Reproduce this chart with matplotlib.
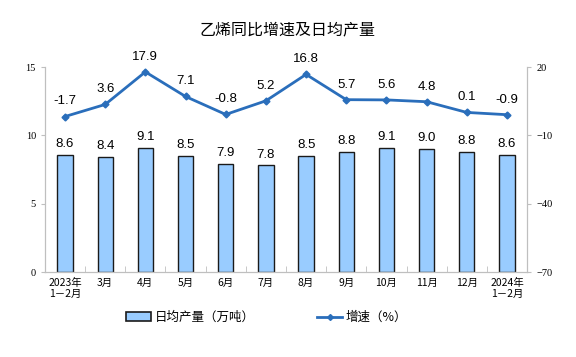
import numpy as np
import matplotlib.pyplot as plt
from matplotlib.lines import Line2D
from matplotlib.patches import Patch

plt.rcParams['font.family'] = ['Noto Sans CJK SC', 'DejaVu Sans']

months = ["2023年\n1－2月", "3月", "4月", "5月", "6月", "7月", "8月", "9月",
          "10月", "11月", "12月", "2024年\n1－2月"]
output = [8.6, 8.4, 9.1, 8.5, 7.9, 7.8, 8.5, 8.8, 9.1, 9.0, 8.8, 8.6]
growth = [-1.7, 3.6, 17.9, 7.1, -0.8, 5.2, 16.8, 5.7, 5.6, 4.8, 0.1, -0.9]

bar_color = '#99CCFF'
line_color = '#2A6EBB'
axis_gray = '#BFBFBF'

fig = plt.figure(figsize=(5.76, 3.57), dpi=100)
ax = fig.add_axes([0.078, 0.238, 0.837, 0.574])
x = np.arange(len(months))

ax.bar(x, output, width=0.38, color=bar_color, edgecolor='#1a1a1a', linewidth=1.0, zorder=2)
for xi, v in zip(x, output):
    ax.text(xi, v + 0.35, f"{v:.1f}", ha='center', va='bottom', fontsize=9.5,
            family=['Liberation Sans', 'DejaVu Sans'])

ax.set_xlim(-0.5, len(months) - 0.5)
ax.set_ylim(0, 15)
ax.set_yticks([0, 5, 10, 15])
ax.set_xticks(x)
ax.set_xticklabels(months, fontsize=7.5)
ax.set_xticks(np.arange(-0.5, len(months)), minor=True)
ax.tick_params(axis='x', which='major', length=0, pad=4)
ax.tick_params(axis='x', which='minor', length=4, color=axis_gray, direction='in')
ax.tick_params(axis='y', labelsize=7.5, length=3, color=axis_gray, direction='out')
for lbl in ax.get_yticklabels():
    lbl.set_family(['Liberation Serif', 'DejaVu Serif'])
ax.spines['top'].set_visible(False)
for s in ['left', 'right', 'bottom']:
    ax.spines[s].set_color(axis_gray)

ax2 = ax.twinx()
ax2.plot(x, growth, color=line_color, linewidth=2.0, marker='D', markersize=3.5, zorder=3)
for xi, v in zip(x, growth):
    ax2.text(xi, v + 4.0, f"{v:.1f}", ha='center', va='bottom', fontsize=9.5,
             family=['Liberation Sans', 'DejaVu Sans'])
ax2.set_ylim(-70, 20)
ax2.set_yticks([-70, -40, -10, 20])
ax2.tick_params(axis='y', labelsize=7.5, length=3, color=axis_gray)
for lbl in ax2.get_yticklabels():
    lbl.set_family(['Liberation Serif', 'DejaVu Serif'])
ax2.spines['top'].set_visible(False)
for s in ['left', 'right', 'bottom']:
    ax2.spines[s].set_color(axis_gray)

fig.text(0.5, 0.915, "乙烯同比增速及日均产量", ha='center', va='center', fontsize=11.5)

handles = [Patch(facecolor=bar_color, edgecolor='#1a1a1a', linewidth=1.2),
           Line2D([0], [0], color=line_color, linewidth=2, marker='D', markersize=3)]
fig.legend(handles, ["日均产量（万吨）", "增速（%）"], loc='center', ncol=2,
           bbox_to_anchor=(0.463, 0.11), frameon=False, fontsize=9,
           columnspacing=5, handlelength=2.0, handletextpad=0.3)

fig.savefig('out.png', dpi=100)
